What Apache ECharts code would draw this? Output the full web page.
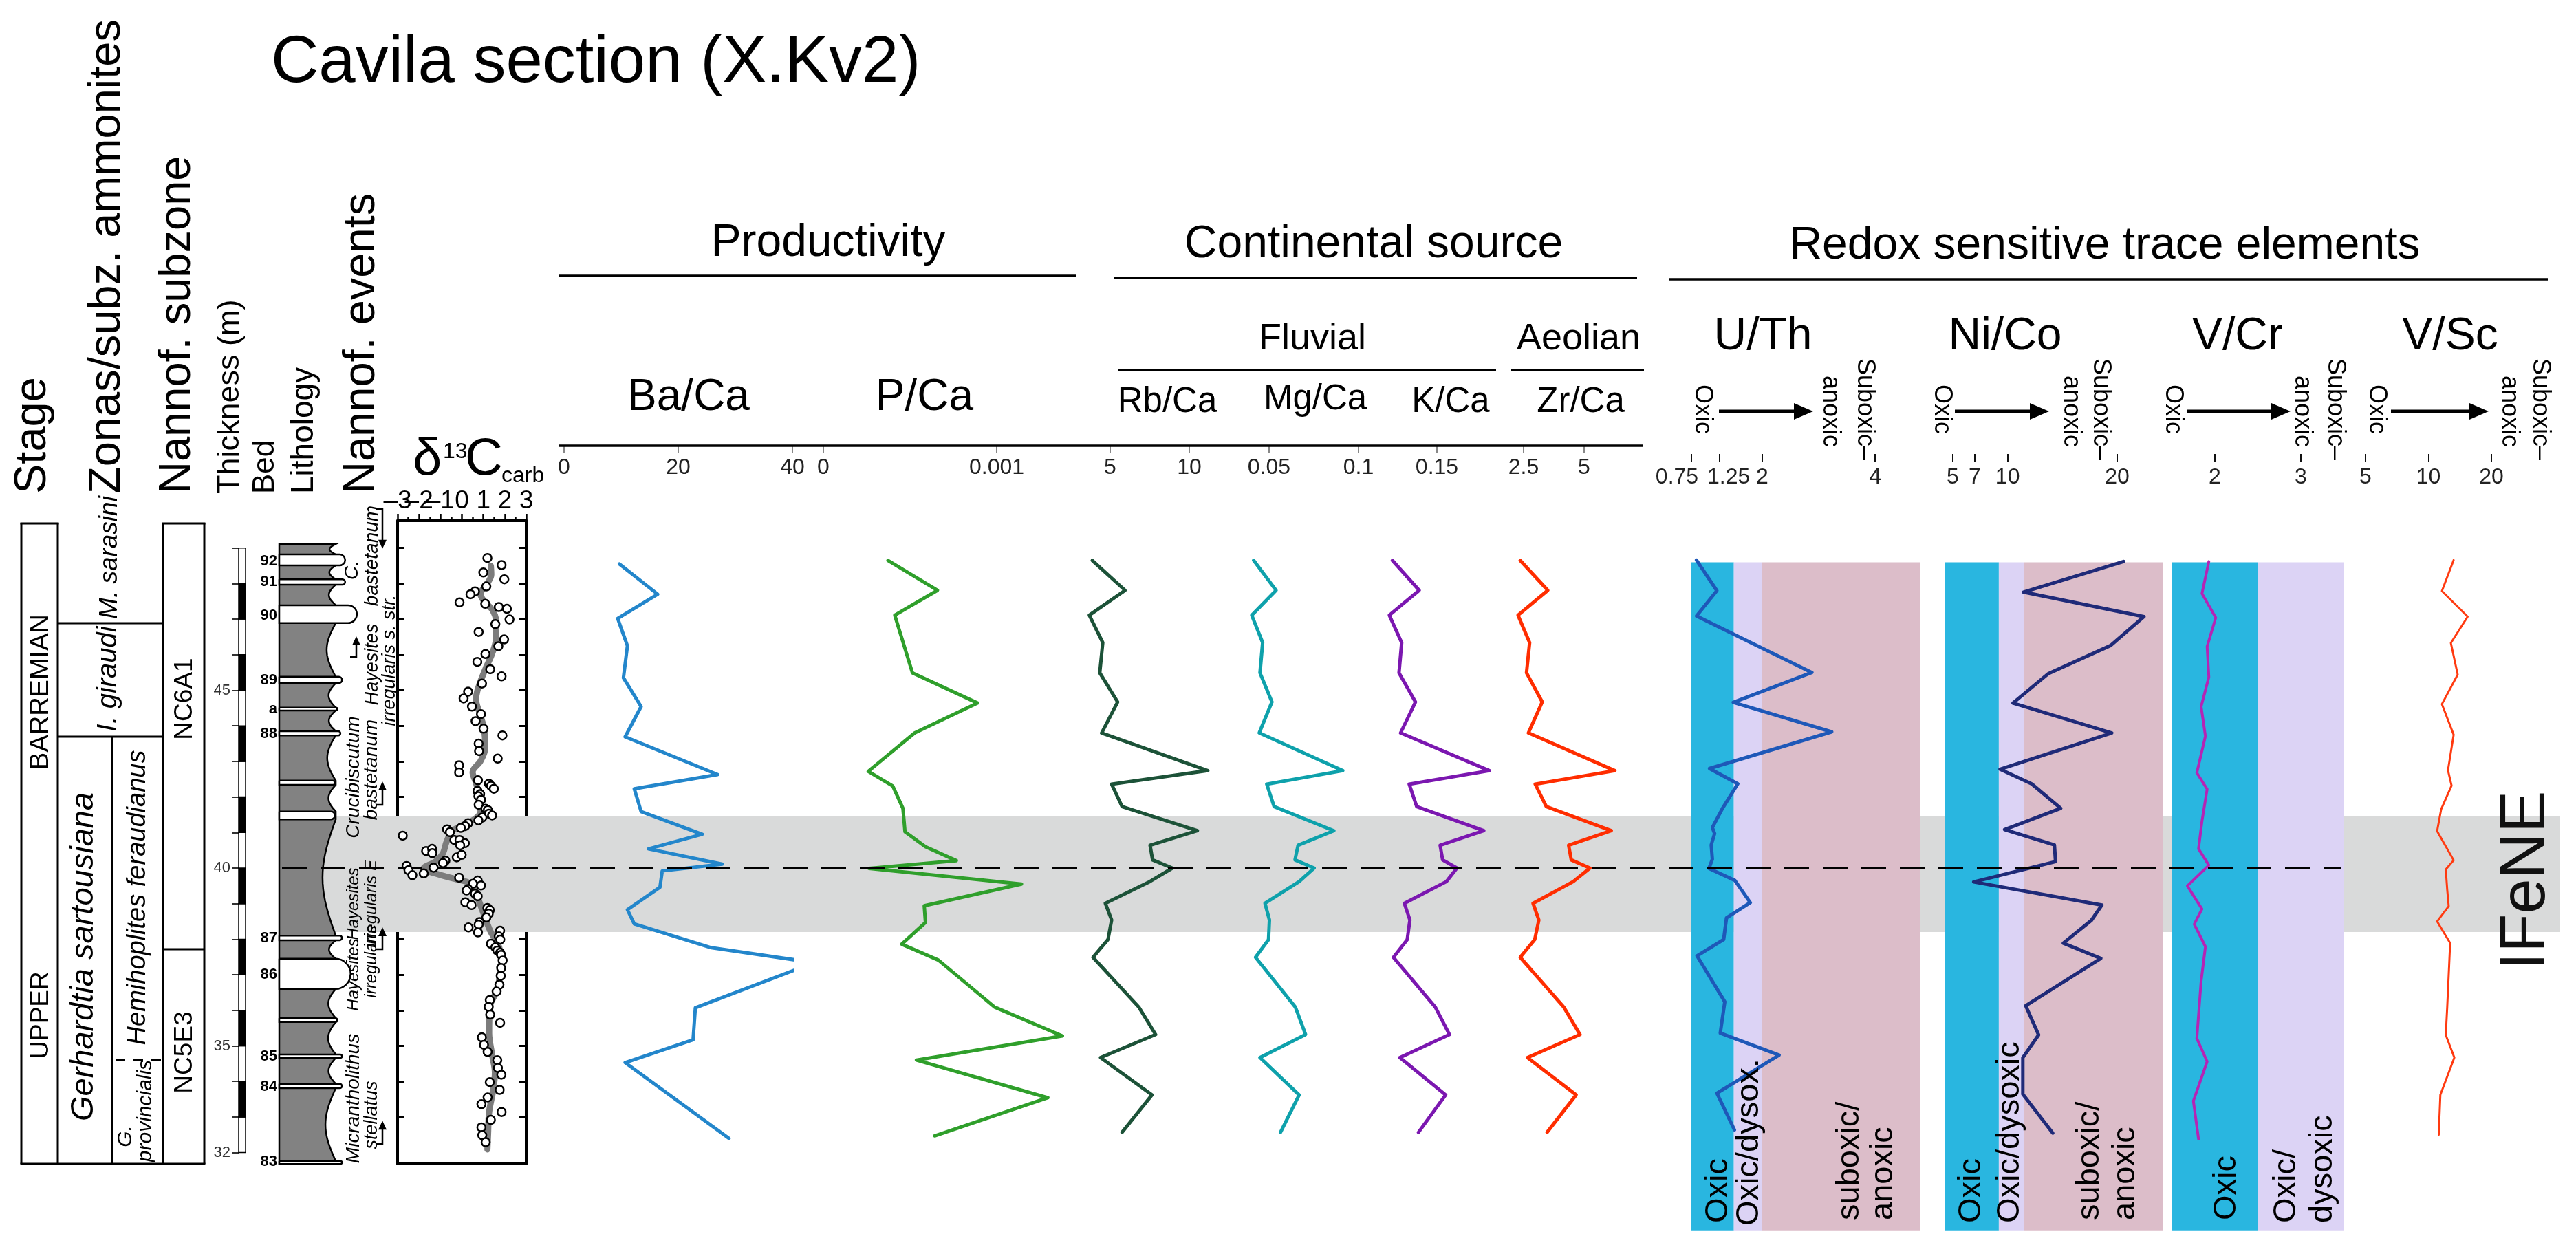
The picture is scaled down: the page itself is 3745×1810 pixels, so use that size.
<!DOCTYPE html>
<html><head><meta charset="utf-8">
<script src="https://cdn.jsdelivr.net/npm/echarts@6/dist/echarts.min.js"></script>
<style>html,body{margin:0;padding:0;background:#fff}#c{width:3745px;height:1810px}</style>
</head><body><div id="c"></div>
<script>
// ---------------- DATA ----------------
// Sample depths (m) shared by Rb/Ca, Mg/Ca, K/Ca, Zr/Ca
const sampleDepth = [48.65,47.81,47.11,46.34,45.49,44.67,43.80,42.74,42.36,41.73,41.05,40.64,40.23,40.00,39.62,39.01,38.54,37.99,37.49,36.09,35.32,34.67,33.62,32.57];
const rbCa = [3.87,5.94,3.68,4.53,4.34,5.47,4.46,11.17,5.09,5.75,10.51,7.52,7.68,8.93,7.5,4.69,5.09,4.86,3.91,6.81,7.87,4.39,7.64,5.75];
const mgCa = [0.0414,0.0539,0.0403,0.0464,0.0449,0.0516,0.0445,0.0912,0.0487,0.0528,0.0862,0.0662,0.0645,0.0752,0.0668,0.0477,0.0502,0.0497,0.0424,0.0647,0.0704,0.0449,0.0668,0.0564];
const kCa = [0.1251,0.1401,0.1234,0.1303,0.1288,0.1380,0.1297,0.1793,0.1345,0.1387,0.1762,0.1518,0.1532,0.1612,0.1553,0.1318,0.1349,0.1334,0.1257,0.1491,0.1570,0.1293,0.1549,0.1397];
const zrCa = [2.36,3.50,2.27,2.75,2.62,3.27,2.70,6.27,2.98,3.44,6.12,4.36,4.47,5.24,4.55,2.89,3.13,2.96,2.36,4.16,4.83,2.66,4.67,3.47];

const baDepth = [48.55,47.70,47.02,46.25,45.35,44.54,43.69,42.63,42.23,41.59,40.95,40.54,40.11,39.92,39.46,38.83,38.43,37.76,37.34,36.07,35.17,34.53,32.40];
const baCa = [9.7,16.4,9.4,11.1,10.4,13.5,10.7,26.9,12.3,13.5,24.2,14.8,27.7,17.2,16.8,11.1,12.3,25.8,43.8,23.0,22.6,10.7,28.9];

const pDepth = [48.65,47.81,47.11,45.49,44.64,43.80,42.72,42.31,41.68,41.02,40.60,40.21,39.99,39.55,38.94,38.47,37.86,37.41,36.09,35.28,34.60,33.54,32.47];
const pCa = [0.000373,0.000658,0.000412,0.000514,0.000890,0.000527,0.000259,0.000400,0.000459,0.000471,0.000589,0.000767,0.000263,0.001143,0.000582,0.000589,0.000452,0.000664,0.000988,0.001379,0.000537,0.001295,0.000642];

const uthDepth = [48.66,47.80,47.09,45.50,44.66,43.83,42.80,42.37,41.68,41.14,40.97,40.65,40.25,39.99,39.65,39.03,38.60,37.99,37.53,36.24,35.36,34.74,33.67,32.64];
const uTh = [0.84,1.20,0.84,2.88,1.49,3.23,1.07,1.57,1.30,1.12,1.16,1.10,1.12,1.06,1.52,1.79,1.37,1.32,0.85,1.34,1.26,2.30,1.20,1.51];

const nicoDepth = [48.62,47.76,47.07,46.26,45.47,44.64,43.80,42.78,42.37,41.68,41.08,40.65,40.18,39.61,38.96,38.53,37.89,37.46,36.13,35.31,34.67,33.64,32.55];
const niCo = [20.58,11.45,22.44,19.40,13.73,10.49,19.50,9.31,12.19,14.85,9.73,14.27,14.37,6.91,18.60,17.64,15.08,18.50,11.65,12.83,11.39,11.39,14.12];

const vcrDepth = [48.62,47.72,47.04,46.23,45.37,44.54,43.71,42.68,42.22,41.32,40.54,40.08,39.50,38.85,38.42,37.79,36.82,35.21,34.56,33.45,32.38];
const vCr = [1.93,1.85,2.01,1.91,1.93,1.84,1.89,1.79,1.91,1.85,1.81,1.93,1.68,1.85,1.76,1.89,1.84,1.79,1.91,1.75,1.81];

const vscDepth = [48.66,47.79,47.07,46.33,45.44,44.61,43.75,42.75,42.32,41.65,41.04,40.22,39.96,39.39,38.93,38.50,37.89,36.10,35.31,34.67,33.62,32.50];
const vSc = [13.2,11.6,15.4,12.8,13.8,11.6,13.2,12.4,12.9,11.5,11.0,13.2,12.1,12.3,12.5,11.0,12.7,12.3,12.1,13.3,11.4,11.2];

// delta13C carb
const d13cVal = [1.19,1.85,1.00,1.98,1.14,0.61,0.40,-0.11,1.09,1.72,
 2.10,2.22,1.56,0.78,1.97,1.70,1.10,0.72,1.32,1.85,
 0.94,0.29,0.08,0.47,0.89,0.64,1.01,1.89,0.78,0.80,
 1.67,-0.13,-0.13,0.75,1.26,1.36,1.49,0.73,0.85,0.77,
 0.89,0.78,1.10,1.21,1.26,1.41,0.95,0.77,0.29,0.15,
 -0.05,-0.69,-0.56,-2.76,-0.35,-0.11,0.14,-1.67,-1.39,-1.38,
 -0.08,-0.24,-0.01,-0.77,-0.88,-2.58,-1.32,-2.49,-2.31,-1.78,
 -0.13,0.74,0.52,0.89,0.29,0.22,0.61,0.74,0.16,0.45,
 1.19,1.30,1.25,1.14,0.82,0.78,0.31,0.75,1.78,1.72,
 1.79,1.35,1.56,1.65,1.78,1.83,1.90,1.83,1.81,1.75,
 1.62,1.30,1.25,1.32,1.78,0.93,1.03,1.20,1.65,1.68,
 1.84,1.30,1.76,1.20,0.91,1.85,1.35,0.91,0.95,1.11];
const d13cDepth = [48.72,48.52,48.31,48.12,47.92,47.78,47.70,47.47,47.43,47.34,
 47.29,46.99,46.86,46.64,46.43,46.24,46.02,45.80,45.59,45.39,
 45.19,44.96,44.77,44.54,44.33,44.13,43.92,43.73,43.50,43.29,
 43.08,42.89,42.69,42.47,42.37,42.31,42.23,42.17,42.08,42.02,
 41.92,41.78,41.67,41.63,41.53,41.48,41.42,41.34,41.26,41.18,
 41.13,41.09,41.01,40.91,40.79,40.79,40.70,40.48,40.54,40.42,
 40.64,40.30,40.37,40.21,40.14,40.06,40.01,39.94,39.80,39.85,
 39.73,39.65,39.56,39.51,39.41,39.37,39.28,39.21,39.04,38.96,
 38.88,38.82,38.72,38.61,38.48,38.41,38.33,38.19,38.24,38.08,
 37.99,37.87,37.77,37.68,37.62,37.56,37.40,37.19,36.97,36.72,
 36.53,36.29,36.10,35.88,35.65,35.24,35.03,34.83,34.60,34.38,
 34.19,33.98,33.76,33.55,33.36,33.14,32.92,32.71,32.49,32.29];
const d13cTrendVal = [1.35,1.37,1.19,0.93,0.87,1.03,1.41,1.59,1.59,1.41,1.14,0.93,0.72,0.66,0.82,1.03,1.09,0.87,0.50,0.66,0.82,0.87,0.61,0.08,-0.45,-0.72,-0.88,-1.20,-1.78,-1.30,-0.35,0.40,0.72,1.03,1.35,1.67,1.83,1.78,1.56,1.30,1.27,1.41,1.54,1.46,1.27,1.22,1.19];
const d13cTrendDepth = [48.50,48.25,48.01,47.80,47.70,47.51,47.27,46.96,46.46,46.03,45.66,45.35,44.98,44.74,44.37,43.93,43.38,43.01,42.70,42.39,41.96,41.59,41.38,41.22,41.04,40.73,40.42,40.20,39.99,39.86,39.70,39.56,39.19,38.69,38.20,37.89,37.46,36.97,36.47,36.10,35.36,34.75,34.25,33.76,33.14,32.52,32.09];

// lithology: limestone beds [base m, top m, relief 0-1]
const limestoneBeds = [[48.51,48.82,0.84],[47.97,48.12,0.84],[46.89,47.39,0.99],[45.20,45.38,0.80],[44.43,44.51,0.74],[43.73,43.85,0.78],[42.34,42.46,0.71],[41.37,41.59,0.71],[37.97,38.10,0.80],[36.60,37.45,0.91],[35.67,35.78,0.74],[34.66,34.76,0.80],[33.81,33.93,0.80],[31.68,31.76,0.80]];
const lithologyRange = [31.68, 49.11];
const bedNames = ['92','91','90','89','a','88','87','86','85','84','83'];
const bedLabelDepth = [48.62,48.05,47.10,45.28,44.47,43.77,38.03,37.00,34.70,33.85,31.74];
const nannoEventDepth = [50.1, 45.94, 41.78, 37.72, 32.24];
const nannoEventDir = [-1, 1, 1, 1, 1];

const ifeneInterval = [38.2, 41.45];
const eventDepth = 40;
const uthZones = [0.75, 1.5, 2, 4.8];
const nicoZones = [4.25, 9.2, 11.5, 24.2];
const vcrZones = [1.5, 2.5, 3.5];

// tick labels
const thicknessLabels = [32, 35, 40, 45];
const d13cTicks = [-3, -2, -1, 0, 1, 2, 3];
const d13cDepthTicks = [33,34,35,36,37,38,39,40,41,42,43,44,45,46,47,48,49];
const baTicks = [0, 20, 40];
const pTicks = [0, 0.001];
const rbTicks = [5, 10];
const mgTicks = [0.05, 0.1];
const kTicks = [0.15];
const zrTicks = [2.5, 5];
const uthTicks = [0.75, 1.25, 2, 4];
const nicoTicks = [5, 7, 10, 20];
const vcrTicks = [2, 3];
const vscTicks = [5, 10, 20];

// ---------------- LAYOUT ----------------
const FONT = '"Liberation Sans", Arial, Helvetica, sans-serif';
const PX_PER_M = 51.7, Y40 = 1262;
function yPx(m) { return Y40 - (m - 40) * PX_PER_M; }
function depthRange(topPx, bottomPx) { return { min: 40 - (bottomPx - Y40) / PX_PER_M, max: 40 + (Y40 - topPx) / PX_PER_M }; }
const UP = Math.PI / 2, DOWN = -Math.PI / 2;

function T(text, x, y, size, o) {
  o = o || {};
  const font = (o.italic ? 'italic ' : '') + (o.bold ? 'bold ' : '') + size + 'px ' + FONT;
  const al = o.align || 'center', va = o.va || 'middle';
  return { type: 'text', x: x, y: y, rotation: o.rot || 0, z: 50, silent: true,
    style: { text: text, font: font, fill: o.color || '#000', align: al, textAlign: al, verticalAlign: va, textVerticalAlign: va } };
}
function Ln(x1, y1, x2, y2, w, dash) {
  return { type: 'line', z: 50, silent: true, shape: { x1: x1, y1: y1, x2: x2, y2: y2 }, style: { stroke: '#000', lineWidth: w || 3, lineDash: dash || null } };
}
function Arrow(x1, x2, y) {
  return [Ln(x1, y, x2 - 22, y, 5), { type: 'polygon', z: 50, silent: true, shape: { points: [[x2 - 28, y - 12], [x2, y], [x2 - 28, y + 12]] }, style: { fill: '#000' } }];
}

let G = [];
// title + headers
G.push(T('Cavila section (X.Kv2)', 394, 93, 96, { align: 'left' }));
G.push(T('Productivity', 1204, 354, 66)); G.push(Ln(812, 401, 1564, 401, 3.5));
G.push(T('Continental source', 1997, 356, 66)); G.push(Ln(1620, 404, 2380, 404, 3.5));
G.push(T('Redox sensitive trace elements', 3060, 358, 66)); G.push(Ln(2426, 406, 3704, 406, 3.5));
G.push(T('Fluvial', 1908, 493, 54)); G.push(Ln(1625, 538, 2175, 538, 3));
G.push(T('Aeolian', 2295, 493, 54)); G.push(Ln(2196, 538, 2390, 538, 3));
G.push(T('Ba/Ca', 1001, 578, 64)); G.push(T('P/Ca', 1344, 578, 64));
G.push(T('Rb/Ca', 1697, 585, 51)); G.push(T('Mg/Ca', 1912, 581, 51));
G.push(T('K/Ca', 2109, 585, 51)); G.push(T('Zr/Ca', 2298, 585, 51));
G.push(Ln(812, 648, 2388, 648, 3.5));
G.push(T('U/Th', 2563, 490, 66)); G.push(T('Ni/Co', 2915, 490, 66));
G.push(T('V/Cr', 3253, 490, 66)); G.push(T('V/Sc', 3562, 490, 66));
[[2475, 2499, 2636, 2661, 2711], [2823, 2842, 2979, 3011, 3054], [3159, 3180, 3330, 3347, 3395], [3455, 3476, 3618, 3648, 3693]].forEach(function (r) {
  G.push(T('Oxic', r[0], 595, 36, { rot: DOWN }));
  G = G.concat(Arrow(r[1], r[2], 598));
  G.push(T('anoxic', r[3], 598, 36, { rot: DOWN }));
  G.push(T('Suboxic\u2013', r[4], 595, 36, { rot: DOWN }));
});
// zone labels
[['Oxic', 2498, 1778], ['Oxic/dysox.', 2543, 1782], ['suboxic/', 2689, 1774], ['anoxic', 2738, 1774],
 ['Oxic', 2866, 1778], ['Oxic/dysoxic', 2922, 1778], ['suboxic/', 3038, 1774], ['anoxic', 3090, 1774],
 ['Oxic', 3237, 1774], ['Oxic/', 3324, 1778], ['dysoxic', 3377, 1778]].forEach(function (a) {
  G.push(T(a[0], a[1], a[2], 47, { rot: UP, align: 'left' }));
});
G.push(T('IFeNE', 3674, 1280, 92, { rot: UP, color: '#111' }));

// left column headers
[['Stage', 48, 65], ['Zonas/subz. ammonites', 156, 65], ['Nannof. subzone', 258, 65], ['Thickness (m)', 335, 45],
 ['Bed', 386, 44], ['Lithology', 442, 46], ['Nannof. events', 526, 65]].forEach(function (a) {
  G.push(T(a[0], a[1], 718, a[2], { rot: UP, align: 'left' }));
});
G.push(T('\u03b4', 600, 707, 76, { align: 'left', va: 'bottom' }));
G.push(T('13', 644, 673, 32, { align: 'left', va: 'bottom' }));
G.push(T('C', 676, 707, 76, { align: 'left', va: 'bottom' }));
G.push(T('carb', 729, 708, 32, { align: 'left', va: 'bottom' }));

// stratigraphy boxes
G.push(Ln(31, 761, 31, 1692, 3)); G.push(Ln(84, 761, 84, 1692, 3));
G.push(Ln(29.5, 761, 85.5, 761, 3)); G.push(Ln(29.5, 1692, 298.5, 1692, 3));
G.push(Ln(237, 761, 237, 1692, 3.5)); G.push(Ln(297, 761, 297, 1692, 3));
G.push(Ln(235.5, 761, 298.5, 761, 3));
G.push(Ln(84, 906, 237, 906, 3)); G.push(Ln(84, 1071, 237, 1071, 3));
G.push(Ln(163, 1071, 163, 1692, 3)); G.push(Ln(237, 1380, 297, 1380, 3));
G.push(Ln(168, 1541, 235, 1541, 3, [14, 12]));
G.push(T('BARREMIAN', 60, 1006, 38, { rot: UP }));
G.push(T('UPPER', 60, 1476, 37, { rot: UP }));
G.push(T('M. sarasini', 160, 900, 37, { rot: UP, align: 'left', italic: true }));
G.push(T('I. giraudi', 158, 987, 40, { rot: UP, italic: true }));
G.push(T('Gerhardtia sartousiana', 122, 1391, 47, { rot: UP, italic: true }));
G.push(T('Hemihoplites feraudianus', 200, 1305, 38, { rot: UP, italic: true }));
G.push(T('G.', 183, 1652, 30, { rot: UP, italic: true }));
G.push(T('provincialis', 212, 1615, 30, { rot: UP, italic: true }));
G.push(T('NC6A1', 269, 1016, 37, { rot: UP }));
G.push(T('NC5E3', 269, 1530, 37, { rot: UP }));
// nannofossil events text
[['C.', 512, 829, 28], ['bastetanum', 541, 808, 28], ['Hayesites', 541, 966, 27], ['irregularis s. str.', 566, 960, 27],
 ['Crucibiscutum', 514, 1130, 28], ['bastetanum', 540, 1119, 28], ['Hayesites', 514, 1314, 24], ['irregularis E', 540, 1314, 24],
 ['Hayesites', 514, 1417, 24], ['irregularis', 540, 1398, 24], ['Micrantholithus', 514, 1597, 28], ['stellatus', 540, 1621, 27]].forEach(function (a) {
  G.push(T(a[0], a[1], a[2], a[3], { rot: UP, italic: true }));
});
const eventArrowX = [556, 518, 556, 556, 556];
const eventArrowLen = [58, 30, 34, 32, 34];

// ---------------- RENDERERS ----------------
function renderScale(params, api) {
  const ch = [];
  for (let m = 32; m < 49; m++) {
    const a = api.coord([0, m + 1]), b = api.coord([1, m]);
    ch.push({ type: 'rect', shape: { x: a[0], y: a[1], width: b[0] - a[0], height: b[1] - a[1] }, style: { fill: (m % 2 === 1) ? '#000' : '#fff', stroke: '#000', lineWidth: 1.5 } });
  }
  return { type: 'group', children: ch };
}
function renderLitho(params, api) {
  const L = function (v, m) { return api.coord([v, m]); };
  const top = lithologyRange[1], base = lithologyRange[0];
  const beds = limestoneBeds.slice().sort(function (a, b) { return b[1] - a[1]; });
  const contact = 0.72;
  const pts = [L(0, base), L(0, top)];
  let cur = top;
  function scallop(from, to) {
    const th = from - to, rec = Math.min(0.17, 0.07 + 0.03 * th);
    for (let i = 0; i <= 20; i++) { const t = i / 20; pts.push(L(contact - rec * Math.sin(Math.PI * t), from - th * t)); }
  }
  beds.forEach(function (b) { if (cur > b[1] + 1e-6) scallop(cur, b[1]); pts.push(L(contact, b[1])); pts.push(L(contact, b[0])); cur = b[0]; });
  if (cur > base + 1e-6) scallop(cur, base);
  const ch = [{ type: 'polygon', shape: { points: pts }, style: { fill: '#828282', stroke: '#000', lineWidth: 2.5 } }];
  beds.forEach(function (b) {
    const p1 = L(0, b[1]), p2 = L(b[2], b[0]);
    const h = p2[1] - p1[1];
    ch.push({ type: 'rect', shape: { x: p1[0], y: p1[1], width: p2[0] - p1[0], height: h, r: [0, h / 2, h / 2, 0] }, style: { fill: '#fff', stroke: '#000', lineWidth: 2.5 } });
  });
  return { type: 'group', children: ch };
}
function renderBedLabel(params, api) {
  const p = api.coord([api.value(0), api.value(1)]);
  return { type: 'text', x: p[0], y: p[1], style: { text: bedNames[params.dataIndex], font: 'bold 22px ' + FONT, fill: '#000', align: 'right', textAlign: 'right', verticalAlign: 'middle', textVerticalAlign: 'middle' } };
}
function renderEvent(params, api) {
  const i = params.dataIndex;
  const p = api.coord([api.value(0), api.value(1)]);
  const dir = api.value(2), len = eventArrowLen[i];
  const y2 = p[1] - dir * len;
  return { type: 'group', children: [
    { type: 'polyline', shape: { points: [[p[0] - 9, p[1]], [p[0], p[1]], [p[0], y2 + dir * 10]] }, style: { stroke: '#000', lineWidth: 2.5, fill: 'none' } },
    { type: 'polygon', shape: { points: [[p[0] - 6, y2 + dir * 13], [p[0] + 6, y2 + dir * 13], [p[0], y2]] }, style: { fill: '#000' } }
  ] };
}

// ---------------- AXES ----------------
const grids = [], xAxes = [], yAxes = [];
function addGrid(left, width, top, bottom) { grids.push({ left: left, width: width, top: top, height: bottom - top, containLabel: false }); return grids.length - 1; }
function hiddenY(g, r) { return { gridIndex: g, type: 'value', min: r.min, max: r.max, show: false, axisLine: { onZero: false } }; }
const dashFmt = function (v) { return String(v).replace('-', '\u2013'); };

// 0 background (pixel x)
let g = addGrid(0, 3745, 0, 1810);
xAxes.push({ gridIndex: g, type: 'value', min: 0, max: 3745, show: false });
yAxes.push(hiddenY(g, depthRange(0, 1810)));
// 1 thickness scale
g = addGrid(347, 10, yPx(49), yPx(32));
xAxes.push({ gridIndex: g, type: 'value', min: 0, max: 1, show: false });
yAxes.push({ gridIndex: g, type: 'value', min: 32, max: 49, interval: 1, position: 'left',
  axisLine: { show: false, onZero: false }, axisTick: { show: true, inside: false, length: 9, lineStyle: { color: '#333', width: 2 } },
  axisLabel: { show: true, margin: 12, fontSize: 22, fontFamily: FONT, color: '#333', showMinLabel: true, showMaxLabel: true, formatter: function (v) { return thicknessLabels.indexOf(v) >= 0 ? String(v) : ''; } },
  splitLine: { show: false } });
// 2 lithology
g = addGrid(406, 114, 760, 1700);
xAxes.push({ gridIndex: g, type: 'value', min: 0, max: 1, show: false });
yAxes.push(hiddenY(g, depthRange(760, 1700)));
// 3 delta13C
g = addGrid(578, 187, 757, 1692);
const dr = depthRange(757, 1692);
xAxes.push({ gridIndex: g, type: 'value', min: -3, max: 3, interval: 1, position: 'top',
  axisLine: { show: true, onZero: false, lineStyle: { color: '#000', width: 4 } },
  axisTick: { show: true, inside: false, length: 10, lineStyle: { color: '#000', width: 2.5 } },
  minorTick: { show: true, splitNumber: 2, length: 5, lineStyle: { color: '#000', width: 2.5 } },
  axisLabel: { show: true, margin: 10, fontSize: 37, fontFamily: FONT, color: '#000', showMinLabel: true, showMaxLabel: true, hideOverlap: false,
    formatter: dashFmt, customValues: d13cTicks.filter(function (v, i) { return i % 2 === 0; }) },
  splitLine: { show: false }, minorSplitLine: { show: false } });
yAxes.push({ gridIndex: g, type: 'value', min: dr.min, max: dr.max, position: 'left',
  axisLine: { show: true, onZero: false, lineStyle: { color: '#000', width: 4 } },
  axisTick: { show: true, inside: true, length: 10, lineStyle: { color: '#000', width: 3 }, customValues: d13cDepthTicks },
  axisLabel: { show: false }, splitLine: { show: false } });

function chemAxes(left, width, min, max, ticks, labels, type, topPx, tickColor, tickLen, margin, fmt, rich) {
  const gi = addGrid(left, width, topPx, 1789);
  xAxes.push({ gridIndex: gi, type: type || 'value', min: min, max: max, position: 'top',
    axisLine: { show: false, onZero: false },
    axisTick: { show: true, inside: true, length: tickLen, lineStyle: { color: tickColor, width: 2 }, customValues: ticks },
    axisLabel: { show: true, inside: true, margin: margin, fontSize: 32, fontFamily: FONT, color: '#222', showMinLabel: true, showMaxLabel: true, hideOverlap: false, customValues: labels, formatter: fmt, rich: rich },
    splitLine: { show: false }, minorTick: { show: false } });
  yAxes.push(hiddenY(gi, depthRange(topPx, 1789)));
  return gi;
}
const richShift = {
  l: { fontSize: 32, fontFamily: FONT, color: '#222', padding: [0, 42, 0, 0] },
  r: { fontSize: 32, fontFamily: FONT, color: '#222', padding: [0, 0, 0, 26] }
};
const gBa = chemAxes(820, 332, 0, 40, baTicks, baTicks, 'value', 648, '#888', 10, 16);
const gP = chemAxes(1197, 352.8, 0, 0.0014, pTicks, pTicks, 'value', 648, '#888', 10, 16);
const gRb = chemAxes(1579.5, 195.5, 3.5, 12, rbTicks, rbTicks, 'value', 648, '#888', 10, 16);
const gMg = chemAxes(1806, 169, 0.035, 0.1, mgTicks, mgTicks, 'value', 648, '#888', 10, 16);
const gK = chemAxes(2011, 156, 0.12, 0.18, kTicks, kTicks, 'value', 648, '#888', 10, 16);
const gZr = chemAxes(2197.4, 158.4, 2, 6.5, zrTicks, zrTicks, 'value', 648, '#888', 10, 16);
const gU = chemAxes(2454.9, 337.1, 0.7, 4.8, uthTicks, uthTicks.filter(function (v, i) { return i !== 1; }), 'value', 660, '#111', 11, 18,
  function (v) { return v === uthTicks[0] ? '{l|' + v + '}' : String(v); }, richShift);
const gN = chemAxes(2827, 318, 4.25, 24.2, nicoTicks, nicoTicks, 'value', 660, '#111', 11, 18);
const gVC = chemAxes(3157.5, 250, 1.5, 3.5, vcrTicks, vcrTicks, 'value', 660, '#111', 11, 18);
const gVS = chemAxes(3439, 183, 5, 20, vscTicks, vscTicks, 'log', 660, '#111', 11, 18);
// delta bottom border and right border
xAxes.push({ gridIndex: 3, type: 'value', min: -3, max: 3, position: 'bottom', axisLine: { show: true, onZero: false, lineStyle: { color: '#000', width: 4 } }, axisTick: { show: false }, axisLabel: { show: false }, splitLine: { show: false } });
yAxes.push({ gridIndex: 3, type: 'value', min: dr.min, max: dr.max, position: 'right',
  axisLine: { show: true, onZero: false, lineStyle: { color: '#000', width: 4 } },
  axisTick: { show: true, inside: true, length: 10, lineStyle: { color: '#000', width: 3 }, customValues: d13cDepthTicks },
  axisLabel: { show: false }, splitLine: { show: false } });
// extra label-only axes (labels that would collide with neighbours on the same axis)
xAxes.push({ gridIndex: 3, type: 'value', min: -3, max: 3, position: 'top', axisLine: { show: false, onZero: false }, axisTick: { show: false },
  axisLabel: { show: true, margin: 10, fontSize: 37, fontFamily: FONT, color: '#000', showMinLabel: true, showMaxLabel: true, hideOverlap: false, formatter: dashFmt,
    customValues: d13cTicks.filter(function (v, i) { return i % 2 === 1; }) }, splitLine: { show: false } });
xAxes.push({ gridIndex: gU, type: 'value', min: 0.7, max: 4.8, position: 'top', axisLine: { show: false, onZero: false }, axisTick: { show: false },
  axisLabel: { show: true, inside: true, margin: 18, fontSize: 32, fontFamily: FONT, color: '#222', showMinLabel: true, showMaxLabel: true, hideOverlap: false,
    customValues: [uthTicks[1]], formatter: function (v) { return '{r|' + v + '}'; }, rich: richShift }, splitLine: { show: false } });

// ---------------- SERIES ----------------
const CYAN = '#29b6e0', LAV = '#dcd3f5', PINK = '#dcbdc9';
function zoneSeries(gi, zones, colors) {
  const data = [];
  for (let i = 0; i < zones.length - 1; i++) data.push([{ xAxis: zones[i], yAxis: 29.81, itemStyle: { color: colors[i] } }, { xAxis: zones[i + 1], yAxis: 48.6 }]);
  return { type: 'line', xAxisIndex: gi, yAxisIndex: gi, data: [[zones[0], 40]], symbol: 'none', showSymbol: false, lineStyle: { opacity: 0 }, silent: true, z: 1,
    markArea: { silent: true, label: { show: false }, data: data } };
}
function chem(gi, depth, vals, color, w) {
  return { type: 'line', xAxisIndex: gi, yAxisIndex: gi, data: depth.map(function (d, i) { return [vals[i], d]; }),
    symbol: 'none', showSymbol: false, lineStyle: { color: color, width: w, join: 'round', cap: 'round' }, z: 3, silent: true };
}
const series = [
  { type: 'line', xAxisIndex: 0, yAxisIndex: 0, data: [[0, 40]], symbol: 'none', showSymbol: false, lineStyle: { opacity: 0 }, silent: true, z: 0,
    markArea: { silent: true, label: { show: false }, itemStyle: { color: '#d9dada' }, data: [[{ xAxis: 470, yAxis: ifeneInterval[0] }, { xAxis: 3722, yAxis: ifeneInterval[1] }]] } },
  zoneSeries(gU, uthZones, [CYAN, LAV, PINK]),
  zoneSeries(gN, nicoZones, [CYAN, LAV, PINK]),
  zoneSeries(gVC, vcrZones, [CYAN, LAV]),
  { type: 'custom', xAxisIndex: 1, yAxisIndex: 1, data: [[0, 40]], renderItem: renderScale, z: 2, silent: true },
  { type: 'custom', xAxisIndex: 2, yAxisIndex: 2, data: [[0, 40]], renderItem: renderLitho, z: 2, silent: true },
  { type: 'custom', xAxisIndex: 0, yAxisIndex: 0, data: bedLabelDepth.map(function (d) { return [403, d]; }), renderItem: renderBedLabel, z: 5, silent: true },
  { type: 'custom', xAxisIndex: 0, yAxisIndex: 0, data: nannoEventDepth.map(function (d, i) { return [eventArrowX[i], d, nannoEventDir[i]]; }), renderItem: renderEvent, z: 5, silent: true, clip: false },
  { type: 'line', xAxisIndex: 3, yAxisIndex: 3, data: d13cTrendDepth.map(function (d, i) { return [d13cTrendVal[i], d]; }), symbol: 'none', showSymbol: false, smooth: 0.35,
    lineStyle: { color: '#7c7c7c', width: 9, cap: 'round', join: 'round' }, z: 3, silent: true },
  chem(gBa, baDepth, baCa, '#2386cb', 5),
  chem(gP, pDepth, pCa, '#2f9f2b', 5),
  chem(gRb, sampleDepth, rbCa, '#1c5238', 5),
  chem(gMg, sampleDepth, mgCa, '#0ea1ab', 5),
  chem(gK, sampleDepth, kCa, '#7b17b0', 5),
  chem(gZr, sampleDepth, zrCa, '#ff2d00', 5),
  chem(gU, uthDepth, uTh, '#1e58b8', 5),
  chem(gN, nicoDepth, niCo, '#1f2a78', 5),
  chem(gVC, vcrDepth, vCr, '#b524b5', 4),
  chem(gVS, vscDepth, vSc, '#ff3a10', 3),
  { type: 'line', xAxisIndex: 0, yAxisIndex: 0, data: [[0, 40]], symbol: 'none', showSymbol: false, lineStyle: { opacity: 0 }, silent: true, z: 4,
    markLine: { silent: true, symbol: ['none', 'none'], label: { show: false }, lineStyle: { color: '#000', width: 3, type: [36, 20] },
      data: [[{ coord: [410, eventDepth] }, { coord: [3403, eventDepth] }]] } },
  { type: 'scatter', xAxisIndex: 3, yAxisIndex: 3, data: d13cDepth.map(function (d, i) { return [d13cVal[i], d]; }), symbol: 'circle', symbolSize: 12,
    itemStyle: { color: '#fff', borderColor: '#000', borderWidth: 2.5, opacity: 1 }, z: 6, silent: true }
];

const chart = echarts.init(document.getElementById('c'), null, { renderer: 'canvas' });
chart.setOption({ animation: false, backgroundColor: '#fff', grid: grids, xAxis: xAxes, yAxis: yAxes, series: series, graphic: { elements: G } });
</script></body></html>
